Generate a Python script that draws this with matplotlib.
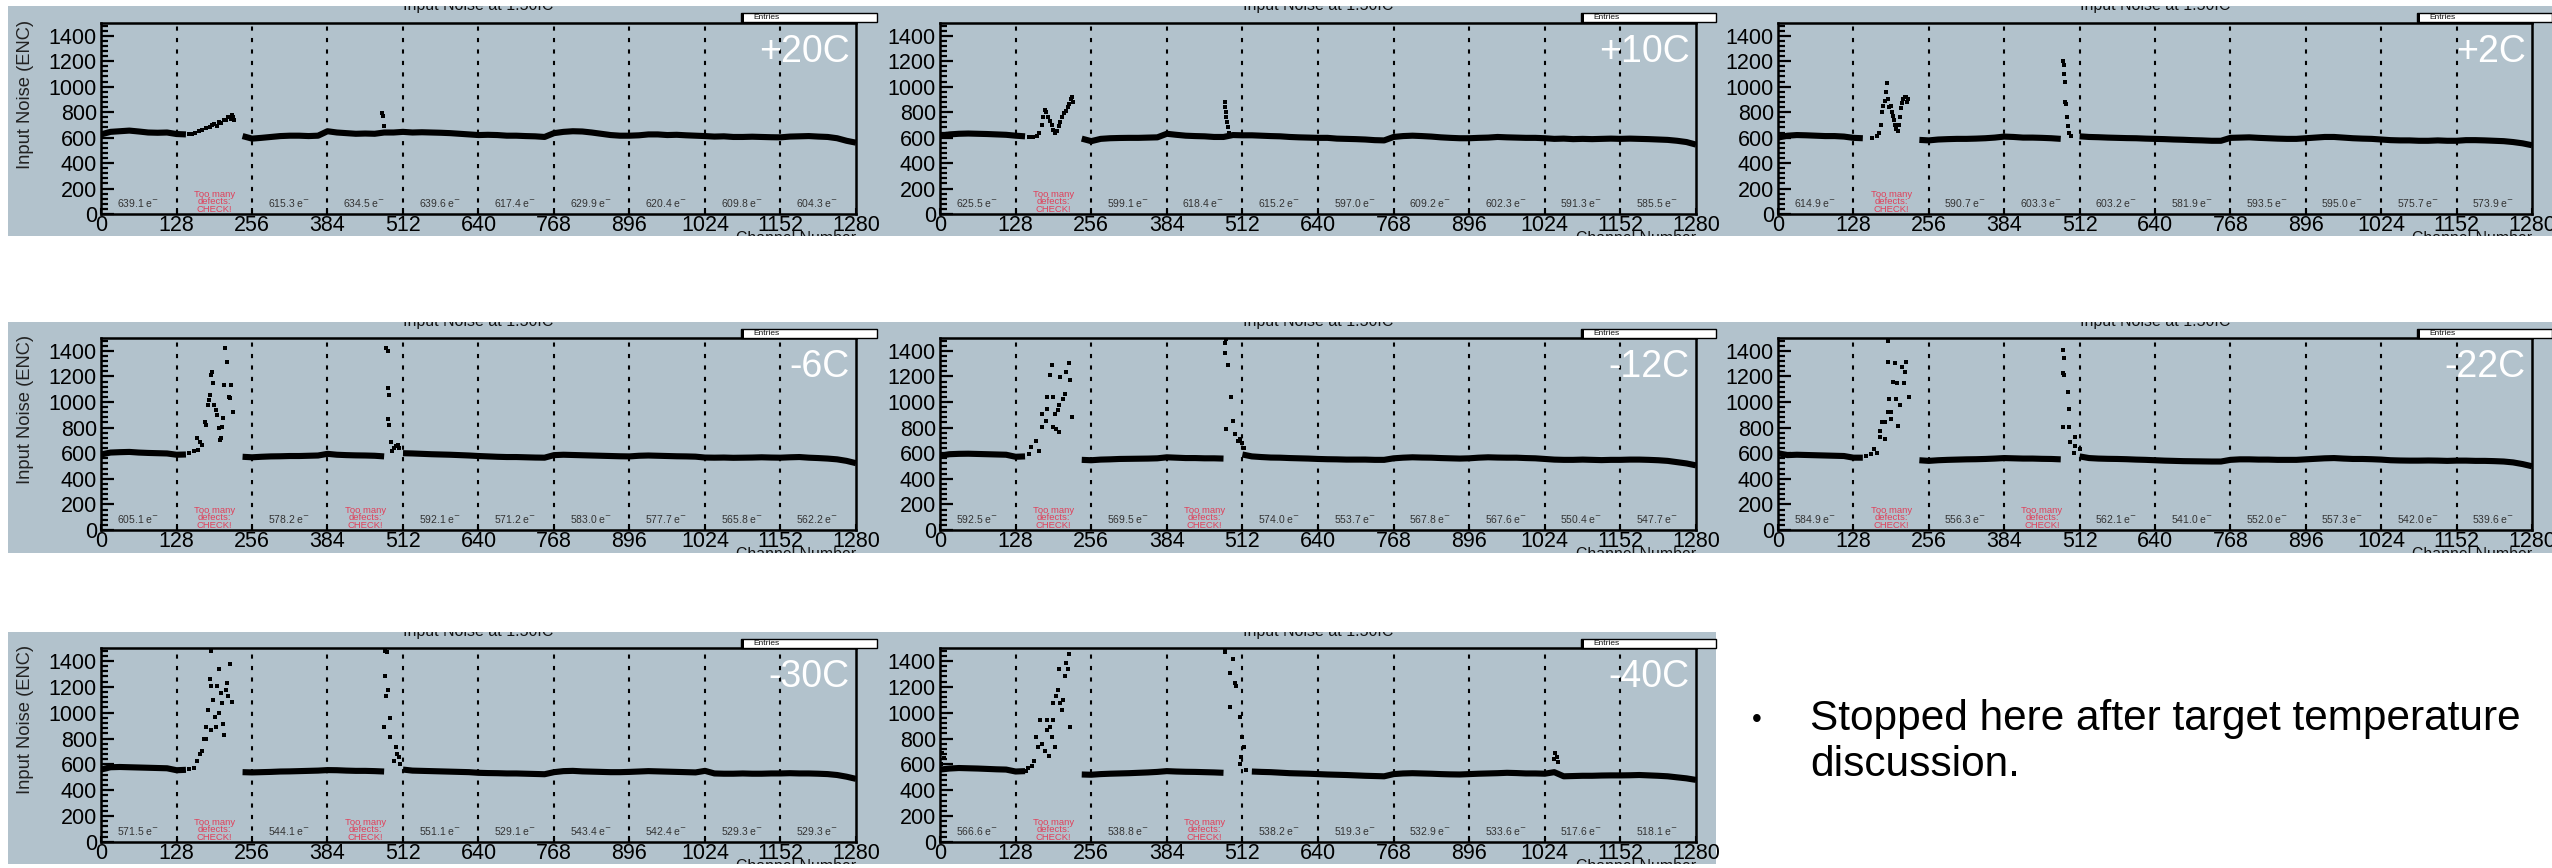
import numpy as np
import matplotlib
matplotlib.use("Agg")
import matplotlib.pyplot as plt
from matplotlib.patches import Rectangle
from matplotlib.ticker import MultipleLocator

plt.rcParams['font.family'] = ['Liberation Sans', 'DejaVu Sans']
NARROW = ['Liberation Sans Narrow', 'Liberation Sans', 'DejaVu Sans']

nan = np.nan
W, H = 2552, 868

temps = ['+20C', '+10C', '+2C', '-6C', '-12C', '-22C', '-30C', '-40C']
seg_edges = np.arange(0, 1281, 128)
channels = np.arange(0, 1281, 16)

# band level (ENC) read every 16 channels, nan where the band is broken
base_p20 = [625, 645, 650, 655, 648, 640, 638, 640, 628, 625,
            nan, nan, nan, nan, nan, 612, 592, 598, 605, 612,
            615, 615, 612, 615, 650, 640, 635, 630, 632, 630,
            640, 640, 645, 640, 642, 640, 638, 635, 630, 625,
            620, 622, 620, 615, 615, 612, 610, 605, 635, 645,
            650, 648, 640, 630, 620, 615, 615, 618, 625, 625,
            620, 622, 618, 615, 612, 608, 610, 605, 605, 607,
            605, 603, 602, 608, 610, 612, 608, 605, 595, 575, 560]
base_p10 = [615, 625, 630, 632, 630, 628, 625, 622, 615, 610,
            nan, nan, nan, nan, nan, 592, 572, 590, 595, 597,
            598, 598, 600, 602, 630, 622, 615, 612, 610, 605,
            605, 620, 618, 618, 615, 612, 610, 605, 602, 600,
            598, 598, 592, 590, 588, 585, 580, 578, 605, 612,
            615, 612, 608, 602, 598, 595, 595, 598, 600, 605,
            602, 600, 598, 598, 595, 590, 592, 588, 590, 588,
            590, 592, 590, 592, 590, 588, 585, 582, 575, 565, 545]
base_p2 = [600, 615, 620, 618, 615, 612, 612, 608, 598, 595,
           nan, nan, nan, nan, nan, 582, 578, 585, 588, 590,
           590, 592, 595, 600, 608, 605, 600, 600, 598, 595,
           590, nan, 610, 605, 603, 600, 598, 596, 595, 592,
           590, 588, 585, 583, 580, 578, 575, 575, 598, 600,
           602, 598, 595, 592, 590, 590, 595, 600, 605, 605,
           600, 595, 592, 590, 585, 580, 578, 578, 575, 575,
           578, 575, 575, 580, 580, 578, 575, 572, 565, 555, 540]
base_m6 = [590, 605, 608, 610, 605, 602, 600, 598, 588, 590,
           nan, nan, nan, nan, nan, 572, 568, 572, 575, 576,
           578, 578, 580, 582, 595, 588, 585, 583, 582, 580,
           575, nan, 600, 598, 595, 592, 590, 588, 585, 582,
           578, 575, 572, 570, 570, 568, 566, 565, 585, 588,
           586, 584, 582, 580, 578, 576, 575, 580, 582, 580,
           578, 576, 575, 573, 566, 565, 566, 564, 565, 566,
           568, 566, 565, 568, 570, 565, 562, 558, 552, 540, 522]
base_m12 = [580, 592, 595, 596, 594, 592, 590, 588, 572, 575,
            nan, nan, nan, nan, nan, 548, 545, 550, 552, 555,
            556, 557, 558, 560, 568, 565, 562, 562, 560, 560,
            558, nan, 590, 575, 570, 566, 565, 562, 560, 558,
            555, 553, 552, 550, 550, 550, 548, 548, 560, 565,
            568, 566, 565, 562, 560, 558, 560, 565, 568, 566,
            565, 565, 562, 560, 555, 550, 548, 548, 550, 548,
            546, 548, 548, 550, 550, 548, 545, 540, 530, 520, 505]
base_m22 = [600, 585, 588, 586, 584, 582, 580, 578, 565, 565,
            nan, nan, nan, nan, nan, 545, 540, 545, 548, 550,
            552, 553, 555, 558, 562, 560, 558, 558, 556, 555,
            552, nan, 575, 562, 558, 556, 555, 553, 550, 548,
            545, 542, 540, 538, 537, 536, 535, 535, 548, 552,
            552, 550, 550, 548, 548, 548, 552, 556, 560, 562,
            558, 555, 555, 553, 550, 545, 543, 542, 542, 543,
            542, 540, 542, 542, 540, 540, 538, 535, 528, 515, 498]
base_m30 = [560, 578, 580, 578, 576, 574, 572, 570, 555, 558,
            nan, nan, nan, nan, nan, 540, 538, 540, 542, 545,
            546, 548, 550, 552, 556, 555, 552, 550, 550, 548,
            545, nan, 560, 552, 550, 548, 546, 544, 542, 540,
            535, 533, 532, 530, 530, 528, 526, 524, 540, 548,
            550, 546, 544, 542, 540, 540, 542, 545, 548, 546,
            544, 542, 540, 538, 550, 530, 528, 528, 530, 528,
            528, 530, 530, 532, 530, 530, 528, 525, 518, 505, 488]
base_m40 = [560, 568, 572, 570, 568, 565, 562, 560, 545, 548,
            nan, nan, nan, nan, nan, 522, 520, 525, 528, 530,
            532, 535, 538, 542, 548, 545, 543, 542, 540, 538,
            535, nan, nan, 545, 542, 540, 536, 532, 530, 528,
            525, 522, 520, 518, 515, 512, 510, 508, 525, 530,
            532, 530, 528, 525, 523, 522, 525, 528, 530, 532,
            535, 533, 530, 530, 528, 540, 508, 510, 512, 512,
            514, 515, 515, 516, 518, 515, 512, 508, 500, 492, 480]

# scattered channels (defect regions and spikes): channel, noise
spot_x_p20 = [150, 155, 160, 166, 172, 178, 184, 188, 192, 196, 200, 204, 208, 212, 216, 220, 222, 224, 226,
              477, 478, 480]
spot_y_p20 = [628, 632, 640, 648, 660, 672, 685, 700, 705, 695, 720, 712, 740, 735, 758, 745, 775, 765, 740,
              795, 770, 690]
spot_x_p10 = [150, 158, 164, 168, 172, 175, 178, 180, 183, 186, 189, 192, 195, 198, 201, 204, 207, 210, 213,
              216, 219, 222, 224, 226, 482, 483, 484, 485, 486, 488, 490]
spot_y_p10 = [608, 605, 615, 640, 700, 760, 820, 800, 760, 730, 700, 660, 640, 650, 690, 720, 760, 790, 810,
              840, 860, 900, 920, 880, 880, 840, 800, 760, 720, 680, 640]
spot_x_p2 = [160, 168, 172, 175, 177, 179, 181, 183, 185, 187, 189, 191, 193, 195, 197, 199, 201, 203, 205,
             207, 209, 211, 213, 215, 217, 219, 221, 484, 485, 486, 487, 488, 489, 490, 492, 494, 497]
spot_y_p2 = [598, 610, 640, 700, 800, 850, 890, 960, 1030, 900, 840, 850, 800, 770, 740, 700, 670, 650, 700,
             760, 830, 870, 900, 920, 915, 880, 905, 1200, 1170, 1100, 1040, 880, 860, 760, 690, 640, 612]
spot_x_m6 = [150, 158, 162, 165, 167, 171, 176, 178, 181, 183, 184, 186, 188, 190, 192, 195, 196, 200, 202,
             204, 205, 207, 209, 211, 214, 217, 219, 221, 223,
             484, 486, 487, 488, 486, 489, 491, 494, 497, 500, 503, 506]
spot_y_m6 = [605, 615, 716, 625, 690, 664, 846, 820, 977, 1016, 1055, 1211, 1237, 1146, 977, 937, 898, 794, 703,
             716, 807, 877, 1133, 1419, 1315, 1042, 1029, 1133, 924,
             1420, 1395, 1110, 1055, 870, 820, 690, 620, 640, 660, 665, 640]
spot_x_m12 = [150, 154, 163, 168, 173, 173, 180, 182, 182, 187, 189, 192, 195, 197, 199, 201, 204, 208, 211,
              214, 218, 220, 223, 201, 192,
              482, 483, 484, 488, 492, 484, 496, 499, 505, 508, 511, 514]
spot_y_m12 = [590, 645, 697, 618, 803, 908, 855, 947, 1039, 1210, 1289, 1039, 908, 789, 934, 974, 1197, 1026, 1066,
              1237, 1303, 1171, 882, 763, 803,
              1382, 1460, 1490, 1289, 1039, 789, 855, 750, 697, 710, 680, 640]
spot_x_m22 = [150, 158, 163, 168, 173, 174, 177, 181, 186, 186, 189, 191, 192, 195, 198, 200, 202, 204, 207,
              211, 214, 216, 218, 223, 181, 186,
              483, 485, 484, 486, 493, 494, 484, 494, 496, 504, 505, 503, 513]
spot_y_m22 = [580, 590, 632, 605, 724, 776, 842, 711, 1474, 1316, 1026, 921, 868, 1158, 1303, 1026, 1145, 816, 974,
              1276, 1145, 1237, 1316, 1039, 842, 921,
              1408, 1342, 1224, 1211, 1079, 947, 803, 803, 684, 724, 658, 605, 632]
spot_x_m30 = [150, 158, 162, 167, 171, 174, 178, 181, 184, 186, 187, 190, 193, 195, 197, 200, 203, 205, 207,
              209, 212, 214, 216, 219, 222, 186, 178, 200,
              481, 485, 481, 487, 483, 490, 479, 490, 500, 502, 497, 505, 507]
spot_y_m30 = [565, 575, 628, 680, 707, 798, 890, 1021, 1257, 1204, 1479, 1099, 969, 890, 1204, 1335, 1152, 1073, 916,
              825, 1178, 1230, 1126, 1374, 1086, 864, 798, 995,
              1480, 1466, 1283, 1178, 1126, 955, 890, 812, 733, 681, 628, 654, 602]
spot_x_m40 = [2, 4, 6, 140, 145, 149, 155, 159, 163, 166, 170, 173, 178, 182, 185, 187, 190, 192, 195, 197,
              199, 201, 204, 206, 208, 211, 214, 216, 218, 220, 182, 192,
              482, 483, 491, 496, 500, 502, 491, 508, 512, 515, 510, 508, 518,
              1040, 1042, 1044, 1046]
spot_y_m40 = [600, 690, 650, 548, 550, 576, 590, 628, 812, 733, 942, 759, 707, 942, 667, 890, 812, 942, 733, 1126,
              1178, 1335, 1073, 1021, 1099, 1283, 1387, 1335, 1453, 890, 864, 1073,
              1490, 1470, 1309, 1414, 1230, 1204, 1047, 969, 812, 733, 654, 602, 560,
              640, 690, 660, 620]

# per-chip mean noise printed in each 128-channel block (None = "Too many defects")
mean_p20 = [639.1, None, 615.3, 634.5, 639.6, 617.4, 629.9, 620.4, 609.8, 604.3]
mean_p10 = [625.5, None, 599.1, 618.4, 615.2, 597.0, 609.2, 602.3, 591.3, 585.5]
mean_p2 = [614.9, None, 590.7, 603.3, 603.2, 581.9, 593.5, 595.0, 575.7, 573.9]
mean_m6 = [605.1, None, 578.2, None, 592.1, 571.2, 583.0, 577.7, 565.8, 562.2]
mean_m12 = [592.5, None, 569.5, None, 574.0, 553.7, 567.8, 567.6, 550.4, 547.7]
mean_m22 = [584.9, None, 556.3, None, 562.1, 541.0, 552.0, 557.3, 542.0, 539.6]
mean_m30 = [571.5, None, 544.1, None, 551.1, 529.1, 543.4, 542.4, 529.3, 529.3]
mean_m40 = [566.6, None, 538.8, None, 538.2, 519.3, 532.9, 533.6, 517.6, 518.1]

panels = [
    (base_p20, spot_x_p20, spot_y_p20, mean_p20),
    (base_p10, spot_x_p10, spot_y_p10, mean_p10),
    (base_p2, spot_x_p2, spot_y_p2, mean_p2),
    (base_m6, spot_x_m6, spot_y_m6, mean_m6),
    (base_m12, spot_x_m12, spot_y_m12, mean_m12),
    (base_m22, spot_x_m22, spot_y_m22, mean_m22),
    (base_m30, spot_x_m30, spot_y_m30, mean_m30),
    (base_m40, spot_x_m40, spot_y_m40, mean_m40),
]

# layout in pixels
GRAY = '#b2c2cc'
col_gray = [(8, 877), (877, 1716), (1716, 2552)]
col_axes = [(101, 856), (940, 1696), (1778, 2532)]
row_gray = [(6, 236), (322, 553), (632, 864)]
row_axes = [(23, 214), (338, 530), (648, 842)]


def fx(px):
    return px / W


def fy(py):
    return 1 - py / H


fig = plt.figure(figsize=(W / 100, H / 100), dpi=100)

for i, (base, sx, sy, means) in enumerate(panels):
    r, c = divmod(i, 3)
    gx0, gx1 = col_gray[c]
    gy0, gy1 = row_gray[r]
    ax0, ax1 = col_axes[c]
    ay0, ay1 = row_axes[r]

    bg = Rectangle((fx(gx0), fy(gy1)), (gx1 - gx0) / W, (gy1 - gy0) / H,
                   transform=fig.transFigure, facecolor=GRAY, edgecolor='none', zorder=-1)
    fig.add_artist(bg)

    ax = fig.add_axes([fx(ax0), fy(ay1), (ax1 - ax0) / W, (ay1 - ay0) / H])
    ax.set_facecolor('none')

    for xv in seg_edges[1:-1]:
        ax.axvline(xv, color='black', lw=1.5, linestyle=(0, (2, 3.5)), zorder=1)

    ax.plot(channels, base, color='black', lw=4.4, solid_capstyle='butt', zorder=3)
    ax.plot(sx, sy, 's', color='black', ms=3.3, mew=0, linestyle='none', zorder=3)

    for k, m in enumerate(means):
        x0 = seg_edges[k]
        if m is None:
            ax.text(x0 + 64, 95, 'Too many\ndefects:\nCHECK!', ha='center', va='center',
                    fontsize=6.8, color='#e0405a', linespacing=0.8, family=NARROW)
        else:
            ax.text(x0 + 62, 88, f'{m:.1f} e$^{{-}}$', ha='center', va='center',
                    fontsize=7.5, color='#333333', family=NARROW)

    ax.text(1 - 6 / (ax1 - ax0), 1 - 29 / (ay1 - ay0), temps[i], transform=ax.transAxes,
            ha='right', va='center', color='white', fontsize=27, family=NARROW)

    ax.set_xlim(0, 1280)
    ax.set_ylim(0, 1500)
    ax.set_xticks(seg_edges)
    ax.set_yticks(np.arange(0, 1401, 200))
    ax.yaxis.set_minor_locator(MultipleLocator(40))
    ax.tick_params(axis='y', which='major', direction='in', length=9, width=1.6,
                   labelsize=15.5, pad=3)
    ax.tick_params(axis='y', which='minor', direction='in', length=5, width=1.6)
    ax.tick_params(axis='x', which='major', direction='in', length=4, width=1.5,
                   labelsize=15.5, pad=1)
    for lab in ax.get_xticklabels() + ax.get_yticklabels():
        lab.set_family(NARROW)
    for s in ax.spines.values():
        s.set_linewidth(1.8)

    # title and x title, cut by the panel edges like the screenshots
    t = fig.text(fx((ax0 + ax1) / 2), fy(gy0 + 4), 'Input Noise at 1.50fC', ha='center',
                 va='baseline', fontsize=11.5, color='#111111', family=NARROW)
    t.set_clip_path(bg)
    t = fig.text(fx(ax1), fy(ay1 + 17), 'Channel Number', ha='right', va='top',
                 fontsize=11.4, color='#111111', family=NARROW)
    t.set_clip_path(bg)

    if c == 0:
        fig.text(fx(25), fy(ay0 - 3), 'Input Noise (ENC)', rotation=90, ha='center',
                 va='top', fontsize=13.2, color='#222222', family=NARROW)

    # "Entries" stat box
    ex0 = ax1 - 115
    fig.add_artist(Rectangle((fx(ex0), fy(gy0 + 16)), (gx1 - ex0) / W, 9 / H,
                             transform=fig.transFigure, facecolor='white',
                             edgecolor='black', lw=1, zorder=4))
    fig.add_artist(Rectangle((fx(ex0), fy(gy0 + 16)), 3 / W, 9 / H,
                             transform=fig.transFigure, facecolor='black',
                             edgecolor='none', zorder=5))
    fig.text(fx(ex0 + 12), fy(gy0 + 11.5), 'Entries', ha='left', va='center',
             fontsize=6, color='#111111', zorder=6, family=NARROW)

# note in the empty slot
fig.text(fx(1757), fy(720), '\u2022', ha='center', va='center', fontsize=20, color='black')
fig.text(fx(1810), fy(730), 'Stopped here after target temperature', ha='left',
         va='baseline', fontsize=30.5, color='black')
fig.text(fx(1810), fy(776), 'discussion.', ha='left', va='baseline', fontsize=30.5,
         color='black')

fig.savefig('out.png', dpi=100, facecolor='white')
plt.close(fig)
